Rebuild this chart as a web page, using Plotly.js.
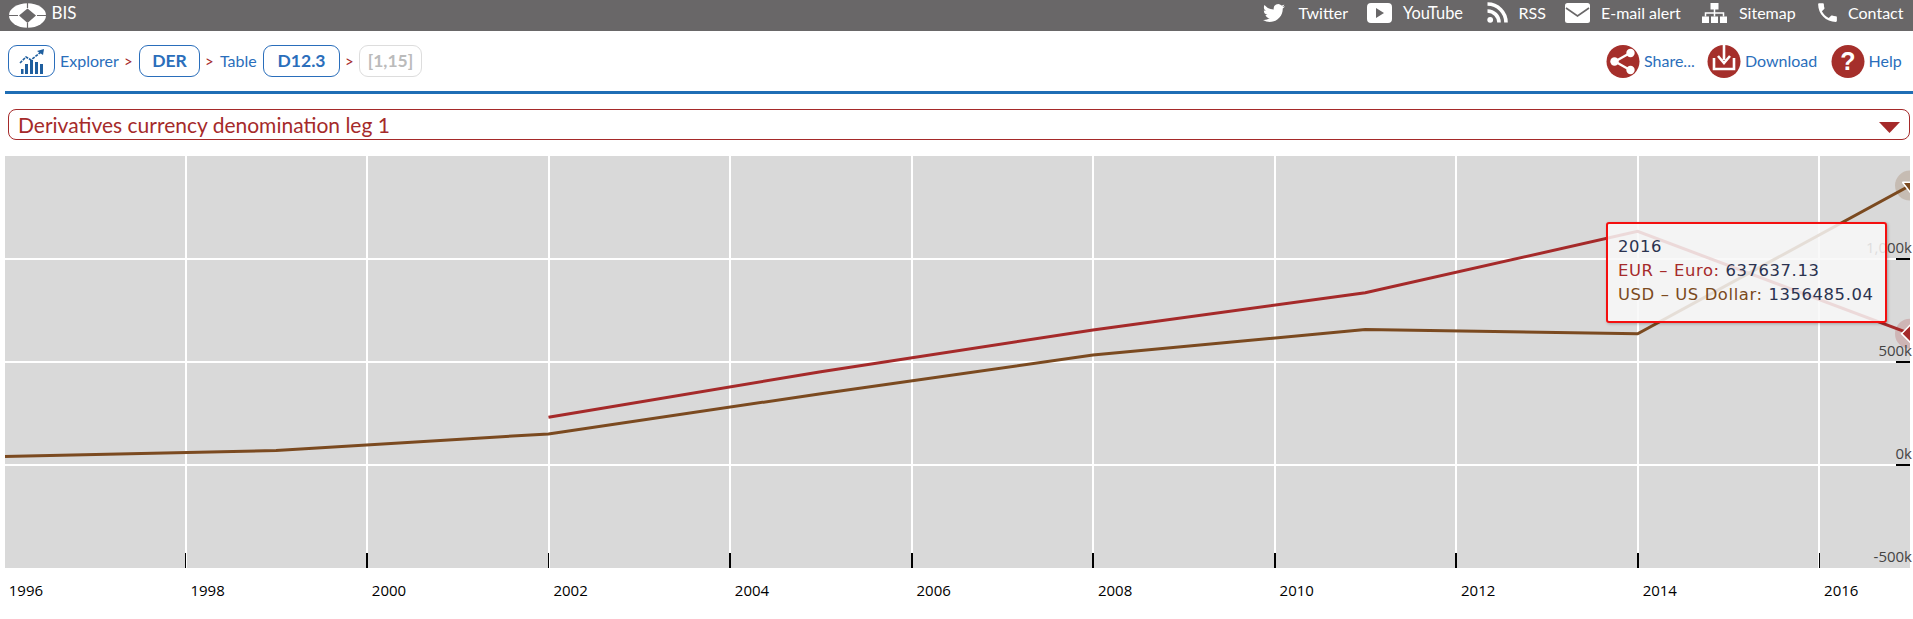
<!DOCTYPE html>
<html><head><meta charset="utf-8">
<script src="https://cdn.plot.ly/plotly-3.0.1.min.js"></script>
<style>
html,body{margin:0;padding:0;background:#fff;width:1913px;height:619px;overflow:hidden;font-family:Lato,"Open Sans",sans-serif}
#chart{position:absolute;left:0;top:0;width:1913px;height:619px}
.a{position:absolute;white-space:nowrap}
#bar{position:absolute;left:0;top:0;width:1913px;height:31px;background:#696768}
.h{color:#fff;font-size:16px;top:2px;line-height:22px}
.n{color:#2a6ebb;font-size:16px;top:50px;line-height:22px}
.g{color:#a52a2a;font-size:15px;top:50px;line-height:22px}
.b{border:1px solid #2a6ebb;border-radius:9px;top:45px;height:30px;line-height:29px;text-align:center;font-weight:700;font-size:17.5px;color:#2a6ebb;box-sizing:content-box}
svg.a{display:block}
#tip{position:absolute;left:1606px;top:222px;width:281px;height:101px;box-sizing:border-box;border:2px solid #f40f0f;border-radius:3px;background:rgba(248,248,248,.85);box-shadow:1px 1px 3px rgba(0,0,0,.25);font-family:"DejaVu Sans",sans-serif;font-size:16.4px;line-height:24px;letter-spacing:.6px}
#tip div{position:absolute;left:10px;white-space:nowrap}
</style></head><body>
<div id="chart"></div>
<div class="a" style="left:0;top:150px;width:5px;height:425px;background:#fff"></div>
<div id="bar"></div>
<svg class="a" style="left:8px;top:3px" width="39" height="25" viewBox="0 0 39 25"><ellipse cx="19.5" cy="12.5" rx="18.5" ry="12.2" fill="#fff"/><path d="M19.5 5.5L28 12.5L19.5 20L11 12.5Z" fill="#696768"/><path d="M19.5 0V5M19.5 20V25M0 12.5H10M29 12.5H39" stroke="#696768" stroke-width="1.2"/></svg>
<div class="a h" style="left:51.5px;font-size:17px">BIS</div>
<svg class="a" style="left:1263px;top:2px" width="22" height="22" viewBox="0 0 24 24"><path fill="#fff" d="M23.953 4.57a10 10 0 01-2.825.775 4.958 4.958 0 002.163-2.723c-.951.555-2.005.959-3.127 1.184a4.92 4.92 0 00-8.384 4.482C7.69 8.095 4.067 6.13 1.64 3.162a4.822 4.822 0 00-.666 2.475c0 1.71.87 3.213 2.188 4.096a4.904 4.904 0 01-2.228-.616v.06a4.923 4.923 0 003.946 4.827 4.996 4.996 0 01-2.212.085 4.936 4.936 0 004.604 3.417 9.867 9.867 0 01-6.102 2.105c-.39 0-.779-.023-1.17-.067a13.995 13.995 0 007.557 2.209c9.053 0 13.998-7.496 13.998-13.985 0-.21 0-.42-.015-.63A9.935 9.935 0 0024 4.59z"/></svg>
<div class="a h" style="left:1298.5px">Twitter</div>
<svg class="a" style="left:1367px;top:3px" width="25" height="20" viewBox="0 0 25 20"><path fill="#fff" fill-rule="evenodd" d="M4 0H21A4 4 0 0125 4V16A4 4 0 0121 20H4A4 4 0 010 16V4A4 4 0 014 0ZM9 5V15L17 10Z"/></svg>
<div class="a h" style="left:1403px;font-size:16.4px">YouTube</div>
<svg class="a" style="left:1487px;top:2px" width="21" height="21" viewBox="0 0 21 21"><circle cx="3.2" cy="17.8" r="2.9" fill="#fff"/><path d="M0.5 9A11.5 11.5 0 0112 20.5M0.5 2A18.5 18.5 0 0119 20.5" fill="none" stroke="#fff" stroke-width="3.6"/></svg>
<div class="a h" style="left:1518.5px">RSS</div>
<svg class="a" style="left:1565px;top:3px" width="25" height="20" viewBox="0 0 25 20"><rect width="25" height="20" rx="2.5" fill="#fff"/><path d="M1 5L12.5 13L24 5" fill="none" stroke="#696768" stroke-width="1.6"/></svg>
<div class="a h" style="left:1601px">E-mail alert</div>
<svg class="a" style="left:1702px;top:3px" width="25" height="20" viewBox="0 0 25 20"><g fill="#fff"><rect x="8.5" y="0" width="8" height="6.5"/><rect x="0" y="13.5" width="7" height="6.5"/><rect x="9" y="13.5" width="7" height="6.5"/><rect x="18" y="13.5" width="7" height="6.5"/></g><path d="M12.5 6V13.5M3.5 13.5V10H21.5V13.5" fill="none" stroke="#fff" stroke-width="1.5"/></svg>
<div class="a h" style="left:1739px">Sitemap</div>
<svg class="a" style="left:1815px;top:0px" width="25" height="25" viewBox="0 0 24 24"><path fill="#fff" d="M6.62 10.79c1.44 2.83 3.76 5.14 6.59 6.59l2.2-2.2c.27-.27.67-.36 1.02-.24 1.12.37 2.33.57 3.57.57.55 0 1 .45 1 1V20c0 .55-.45 1-1 1-9.39 0-17-7.61-17-17 0-.55.45-1 1-1h3.5c.55 0 1 .45 1 1 0 1.25.2 2.45.57 3.57.11.35.03.74-.25 1.02l-2.2 2.2z"/></svg>
<div class="a h" style="left:1848px">Contact</div>

<div class="a b" style="left:8px;width:45px;font-size:0"></div>
<svg class="a" style="left:18px;top:49px" width="28" height="25" viewBox="0 0 28 25"><g fill="#1f5f9f"><rect x="7" y="15" width="3" height="10"/><rect x="12" y="11" width="3" height="14"/><rect x="17" y="13" width="3" height="12"/><rect x="22" y="15" width="3" height="10"/><rect x="3" y="20" width="2.5" height="5"/></g><path d="M2 14L8 8L13 11L23 3" fill="none" stroke="#1f5f9f" stroke-width="1.6" stroke-dasharray="3 1"/><path d="M19 2L26 0L25 6Z" fill="#1f5f9f"/></svg>
<div class="a n" style="left:60px">Explorer</div><div class="a g" style="left:124px">&gt;</div>
<div class="a b" style="left:139px;width:59px">DER</div>
<div class="a g" style="left:205px">&gt;</div><div class="a n" style="left:220px">Table</div>
<div class="a b" style="left:263px;width:75px">D12.3</div>
<div class="a g" style="left:345px">&gt;</div>
<div class="a b" style="left:359px;width:61px;border-color:#ddd;color:#bbb">[1,15]</div>

<svg class="a" style="left:1606px;top:45px" width="34" height="33" viewBox="0 0 34 33"><circle cx="17" cy="16.5" r="16.5" fill="#a52f2b"/><path d="M24 8L9 16.5L24 25" fill="none" stroke="#fff" stroke-width="2.4"/><circle cx="24.5" cy="8" r="4.2" fill="#fff"/><circle cx="8.5" cy="16.5" r="4.2" fill="#fff"/><circle cx="24.5" cy="25" r="4.2" fill="#fff"/></svg>
<div class="a n" style="left:1644px">Share...</div>
<svg class="a" style="left:1706.5px;top:45px" width="34" height="33" viewBox="0 0 34 33"><circle cx="17" cy="16.5" r="16.5" fill="#a52f2b"/><path d="M7 13V24H27V13" fill="none" stroke="#fff" stroke-width="2.6"/><path d="M17 0V15M11 11L17 18L23 11" fill="none" stroke="#fff" stroke-width="2.6"/></svg>
<div class="a n" style="left:1745px">Download</div>
<svg class="a" style="left:1830.5px;top:45px" width="34" height="33" viewBox="0 0 34 33"><circle cx="17" cy="16.5" r="16.5" fill="#a52f2b"/><text x="17" y="25" text-anchor="middle" font-family="Liberation Sans" font-weight="700" font-size="25" fill="#fff">?</text></svg>
<div class="a n" style="left:1868.5px">Help</div>
<div class="a" style="left:5px;top:91px;width:1908px;height:3px;background:#1f6eb5"></div>
<div class="a" style="left:8px;top:109px;width:1900px;height:28.5px;border:1px solid #a52a2a;border-radius:8px"></div>
<div class="a" style="left:18px;top:110px;color:#a52a2a;font-size:21px;line-height:30px">Derivatives currency denomination leg 1</div>
<svg class="a" style="left:1879px;top:122px" width="21" height="11" viewBox="0 0 21 11"><path d="M0 0H21L10.5 11Z" fill="#a52a2a"/></svg>
<div id="tip"></div>

<script>
var years = ["1995-12-31","1998-12-31","2001-12-31","2004-12-31","2007-12-31","2010-12-31","2013-12-31","2016-12-31"];
var usdValues = [41000,70000,151000,346000,534000,658000,637000,1356485.04];
var eurValues = [null,null,232000,453000,655000,836000,1134000,637637.13];
var usdName = "USD – US Dollar";
var eurName = "EUR – Euro";
var tooltipYear = "2016";
var yTickVals = [-500000,0,500000,1000000,1500000];
var yTickText = ["-500k","0k","500k","1,000k",""];
var usdColor = "#7b4a20", eurColor = "#a52a2a";
var lastX = years[years.length-1];
var lastUsd = usdValues[usdValues.length-1], lastEur = eurValues[eurValues.length-1];

var traces = [
 {x:years,y:eurValues,name:eurName,mode:"lines",line:{color:eurColor,width:3},connectgaps:false},
 {x:years,y:usdValues,name:usdName,mode:"lines",line:{color:usdColor,width:3}},
 {x:[lastX],y:[lastEur],mode:"markers",marker:{size:30,color:eurColor,opacity:.2}},
 {x:[lastX],y:[lastUsd],mode:"markers",marker:{size:30,color:usdColor,opacity:.2}},
 {x:[lastX],y:[lastEur],mode:"markers",marker:{size:13,symbol:"diamond",color:eurColor,line:{color:"#fff",width:1.5}}},
 {x:[lastX],y:[lastUsd],mode:"markers",marker:{size:13,symbol:"triangle-down",color:usdColor,line:{color:"#fff",width:1.5}}}
];
var layout = {
 width:1913,height:619,showlegend:false,
 margin:{l:4,r:3,t:155.5,b:50.5,pad:0},
 paper_bgcolor:"#fff",plot_bgcolor:"#d9d9d9",
 font:{family:"Open Sans, sans-serif",size:15,color:"#000"},
 xaxis:{type:"date",range:["1996-01-01","2016-12-31"],tick0:"1996-01-01",dtick:"M24",tickformat:"%Y",
  ticks:"inside",ticklen:15,tickwidth:1.5,tickcolor:"#000",showgrid:true,gridcolor:"#fff",gridwidth:2,
  ticklabelposition:"outside right",ticklabelstandoff:12,ticklabelshift:4,zeroline:false,showline:false,fixedrange:true},
 yaxis:{side:"right",range:[-500000,1500000],tickmode:"array",tickvals:yTickVals,ticktext:yTickText,
  ticks:"inside",ticklen:14,tickwidth:1.5,tickcolor:"#000",showgrid:true,gridcolor:"#fff",gridwidth:2,
  ticklabelposition:"inside top",ticklabelstandoff:-5,zeroline:false,showline:false,fixedrange:true}
};
Plotly.newPlot("chart",traces,layout,{displayModeBar:false,staticPlot:true});

function row(top,color,name,val){
 return '<div style="top:'+top+'px"><span style="color:'+color+'">'+name+':</span> <span style="color:#2b3350">'+val.toFixed(2)+'</span></div>';
}
document.getElementById("tip").innerHTML =
 '<div style="top:11px;color:#2b3350">'+tooltipYear+'</div>'+
 row(35,eurColor,eurName,lastEur)+row(59,usdColor,usdName,lastUsd);
</script>
</body></html>
